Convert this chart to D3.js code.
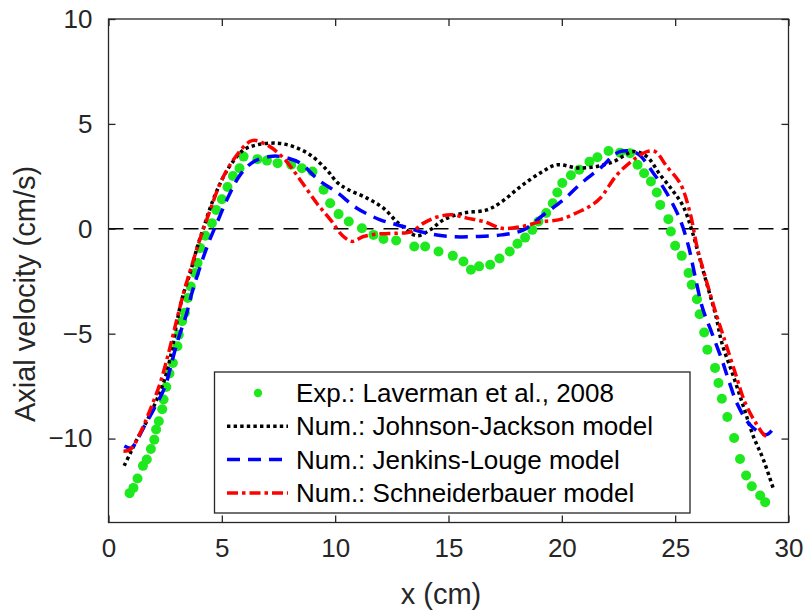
<!DOCTYPE html>
<html>
<head>
<meta charset="utf-8">
<script src="https://cdn.jsdelivr.net/npm/d3@7.9.0/dist/d3.min.js"></script>
<style>
  body { margin: 0; background: #fff; }
  svg { display: block; font-family: "Liberation Sans", Arial, sans-serif; }
</style>
</head>
<body>
<svg id="chart" width="804" height="610"></svg>
<script>
// Experimental data (Laverman et al., 2008): [x (cm), axial velocity (cm/s)]
const expData = [
  [0.93,-12.6],[1.1,-12.35],[1.28,-11.9],[1.52,-11.3],[1.69,-11.0],[1.87,-10.5],
  [2.02,-10.05],[2.1,-9.57],[2.22,-9.17],[2.37,-8.6],[2.43,-8.14],[2.55,-7.54],
  [2.69,-6.9],[2.84,-6.4],[3.04,-5.6],[3.1,-5.05],[3.25,-4.4],[3.37,-4.0],
  [3.5,-3.3],[3.63,-2.75],[3.82,-2.11],[3.93,-1.63],[4.05,-0.92],[4.27,-0.33],
  [4.56,0.27],[4.75,0.9],[5.0,1.41],[5.25,1.99],[5.49,2.52],[5.78,2.89],
  [5.96,3.44],[6.57,3.32],[6.99,3.25],[7.46,3.13],[8.06,3.05],[8.53,2.89],
  [9.0,2.73],[9.49,1.86],[9.78,1.22],[10.15,0.7],[10.6,0.35],[11.18,0.03],
  [11.69,-0.29],[12.13,-0.49],[12.69,-0.56],[13.49,-0.84],[13.97,-0.84],[14.56,-1.08],
  [15.19,-1.29],[15.66,-1.56],[15.99,-1.95],[16.35,-1.79],[16.84,-1.71],[17.25,-1.42],
  [17.7,-1.08],[18.04,-0.71],[18.38,-0.42],[18.7,-0.05],[18.97,0.35],[19.31,0.75],
  [19.6,1.22],[19.8,1.73],[20.02,2.18],[20.4,2.55],[20.77,2.82],[21.22,3.2],
  [21.57,3.41],[22.06,3.71],[22.57,3.63],[23.01,3.6],[23.34,3.05],[23.63,2.65],
  [23.93,2.25],[24.19,1.73],[24.34,1.14],[24.7,0.46],[24.81,-0.13],[25.0,-0.81],
  [25.29,-1.29],[25.59,-2.11],[25.73,-2.67],[25.96,-3.36],[26.08,-4.07],[26.28,-4.94],
  [26.42,-5.76],[26.76,-6.63],[26.91,-7.35],[27.06,-8.1],[27.3,-8.97],[27.6,-9.97],
  [27.86,-10.97],[28.13,-11.76],[28.38,-12.27],[28.75,-12.71],[28.97,-13.03]
];

// Johnson-Jackson model
const johnsonJackson = [
  [0.69,-11.3],[0.96,-10.7],[1.25,-10.05],[1.69,-9.17],[2.13,-8.14],[2.5,-7.1],
  [2.8,-5.76],[3.04,-4.33],[3.24,-3.35],[3.6,-2.11],[3.97,-0.68],[4.19,0.03],
  [4.56,1.22],[5.0,2.33],[5.44,3.13],[5.96,3.76],[6.55,4.0],[7.43,4.08],
  [8.16,3.92],[8.9,3.52],[9.63,2.81],[10.1,2.2],[10.52,1.9],[11.4,1.46],
  [12.13,0.98],[12.79,0.27],[13.6,-0.33],[14.19,-0.05],[14.78,0.43],[15.66,0.75],
  [16.69,0.9],[17.3,1.25],[18.2,2.03],[19.1,2.7],[19.78,3.05],[20.7,2.9],
  [21.54,2.97],[22.28,3.2],[23.16,3.68],[23.75,3.44],[24.34,2.57],[24.92,1.78],
  [25.36,1.06],[25.73,-0.05],[26.1,-1.48],[26.47,-2.9],[26.8,-4.17],[27.06,-5.44],
  [27.57,-7.03],[28.01,-8.46],[28.45,-9.89],[28.89,-11.0],[29.35,-12.45]
];

// Jenkins-Louge model
const jenkinsLouge = [
  [0.7,-10.35],[1.0,-10.45],[1.2,-10.2],[1.54,-9.49],[1.99,-8.62],[2.5,-7.51],
  [2.8,-6.32],[3.09,-5.2],[3.43,-4.1],[3.68,-3.06],[4.05,-1.79],[4.41,-0.68],
  [4.78,0.27],[5.29,1.54],[5.81,2.57],[6.4,3.2],[7.13,3.45],[7.57,3.45],
  [8.46,3.13],[9.26,2.33],[10.1,1.72],[10.96,0.98],[11.99,0.43],[13.01,0.11],
  [14.05,-0.21],[15.07,-0.37],[16.25,-0.37],[17.35,-0.29],[18.31,-0.05],[19.19,0.67],
  [20.07,1.38],[20.8,2.12],[21.69,2.89],[22.57,3.68],[23.31,3.6],[24.04,2.65],
  [24.63,1.7],[25.22,0.43],[25.59,-0.84],[25.88,-2.27],[26.2,-3.75],[26.62,-4.97],
  [27.06,-6.24],[27.35,-7.19],[27.72,-8.3],[28.23,-9.25],[28.75,-9.73],[29.04,-9.81],
  [29.26,-9.62]
];

// Schneiderbauer model
const schneiderbauer = [
  [0.66,-10.6],[0.96,-10.52],[1.4,-9.73],[1.84,-8.62],[2.28,-7.35],[2.65,-5.92],
  [2.94,-4.65],[3.16,-3.7],[3.31,-3.06],[3.75,-1.48],[4.12,-0.21],[4.49,0.9],
  [4.93,2.17],[5.51,3.29],[6.33,4.2],[6.99,4.0],[7.72,3.37],[8.46,2.33],
  [9.19,1.22],[9.85,0.35],[10.3,-0.3],[10.74,-0.6],[11.25,-0.37],[11.99,-0.24],
  [12.72,-0.21],[13.38,-0.13],[13.9,0.27],[14.49,0.56],[15.15,0.67],[15.81,0.51],
  [16.54,0.35],[17.35,0.03],[18.2,0.1],[19.04,0.33],[19.95,0.45],[20.73,0.8],
  [21.2,1.05],[21.69,1.46],[22.43,2.57],[23.16,3.29],[23.75,3.68],[24.12,3.68],
  [24.63,2.97],[25.22,2.17],[25.66,0.75],[25.96,-0.84],[26.32,-2.27],[26.84,-4.17],
  [27.13,-5.13],[27.65,-6.87],[28.09,-8.3],[28.6,-9.33],[28.97,-9.86],[29.19,-9.86]
];

const xTicks = [0, 5, 10, 15, 20, 25, 30];
const yTicks = [-10, -5, 0, 5, 10];
const legendLabels = [
  "Exp.: Laverman et al., 2008",
  "Num.: Johnson-Jackson model",
  "Num.: Jenkins-Louge model",
  "Num.: Schneiderbauer model"
];

const axisColor = "#262626";
const green = "#1ee81e";

const svg = d3.select("#chart");
const plotLeft = 108.5, plotRight = 788.5, plotTop = 19, plotBottom = 522.5;

const x = d3.scaleLinear().domain([0, 30]).range([plotLeft, plotRight]);
const y = d3.scaleLinear().domain([-14, 10]).range([plotBottom, plotTop]);

// zero reference line
svg.append("line")
  .attr("x1", x(0)).attr("x2", x(30))
  .attr("y1", y(0)).attr("y2", y(0))
  .attr("stroke", "#000").attr("stroke-width", 1.5)
  .attr("stroke-dasharray", "15,10");

const line = d3.line()
  .x(d => x(d[0]))
  .y(d => y(d[1]))
  .curve(d3.curveCatmullRom.alpha(0.5));

// experimental dots
svg.append("g").selectAll("circle")
  .data(expData)
  .join("circle")
  .attr("cx", d => x(d[0]))
  .attr("cy", d => y(d[1]))
  .attr("r", 5)
  .attr("fill", green);

const series = [
  { data: johnsonJackson, color: "#000000", dash: "3.4,3.2" },
  { data: jenkinsLouge, color: "#0000ff", dash: "13,8" },
  { data: schneiderbauer, color: "#ff0000", dash: "11,4,3.5,4" }
];

series.forEach(s => {
  svg.append("path")
    .datum(s.data)
    .attr("fill", "none")
    .attr("stroke", s.color)
    .attr("stroke-width", 3.5)
    .attr("stroke-dasharray", s.dash)
    .attr("d", line);
});

// axes box (MATLAB-style, ticks inside on all sides)
const tickLen = 7;
const xAxisB = d3.axisBottom(x).tickValues(xTicks).tickSizeInner(-tickLen).tickSizeOuter(0).tickPadding(16);
const xAxisT = d3.axisTop(x).tickValues(xTicks).tickSizeInner(-tickLen).tickSizeOuter(0).tickFormat("");
const yAxisL = d3.axisLeft(y).tickValues(yTicks).tickSizeInner(-tickLen).tickSizeOuter(0).tickPadding(16);
const yAxisR = d3.axisRight(y).tickValues(yTicks).tickSizeInner(-tickLen).tickSizeOuter(0).tickFormat("");

function style(g) {
  g.select(".domain").remove();
  g.selectAll("line").attr("stroke", axisColor).attr("stroke-width", 1.3);
  g.selectAll("text").attr("fill", axisColor).attr("font-size", 26)
    .attr("font-family", "Liberation Sans, Arial, sans-serif");
}

svg.append("g").attr("transform", `translate(0,${plotBottom})`).call(xAxisB).call(style);
svg.append("g").attr("transform", `translate(0,${plotTop})`).call(xAxisT).call(style);
svg.append("g").attr("transform", `translate(${plotLeft},0)`).call(yAxisL).call(style);
svg.append("g").attr("transform", `translate(${plotRight},0)`).call(yAxisR).call(style);

svg.append("rect")
  .attr("x", plotLeft).attr("y", plotTop)
  .attr("width", plotRight - plotLeft).attr("height", plotBottom - plotTop)
  .attr("fill", "none").attr("stroke", axisColor).attr("stroke-width", 1.3);

// axis labels
svg.append("text")
  .attr("x", 441).attr("y", 604)
  .attr("text-anchor", "middle")
  .attr("font-size", 29).attr("fill", axisColor)
  .text("x (cm)");

svg.append("text")
  .attr("transform", "translate(35,294) rotate(-90)")
  .attr("text-anchor", "middle")
  .attr("font-size", 29).attr("fill", axisColor)
  .text("Axial velocity (cm/s)");

// legend
const lg = svg.append("g");
lg.append("rect")
  .attr("x", 214.5).attr("y", 372)
  .attr("width", 475.5).attr("height", 141)
  .attr("fill", "#fff").attr("stroke", axisColor).attr("stroke-width", 1.3);

const rowY = i => 393 + i * 33.3;

lg.append("circle")
  .attr("cx", 258).attr("cy", rowY(0)).attr("r", 4.2).attr("fill", green);

series.forEach((s, i) => {
  lg.append("line")
    .attr("x1", 227).attr("x2", 288)
    .attr("y1", rowY(i + 1)).attr("y2", rowY(i + 1))
    .attr("stroke", s.color).attr("stroke-width", 3.5)
    .attr("stroke-dasharray", s.dash);
});

legendLabels.forEach((t, i) => {
  lg.append("text")
    .attr("x", 296).attr("y", rowY(i) + 9)
    .attr("font-size", 26).attr("fill", "#000")
    .text(t);
});
</script>
</body>
</html>
